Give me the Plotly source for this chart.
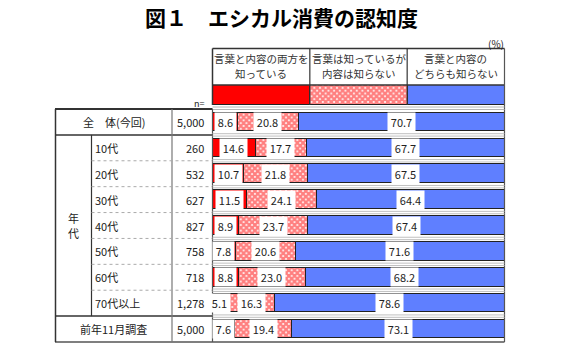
import plotly.graph_objects as go

# ---------------- data ----------------
categories = ["全　体(今回)", "10代", "20代", "30代", "40代", "50代", "60代", "70代以上", "前年11月調査"]
n_values = ["5,000", "260", "532", "627", "827", "758", "718", "1,278", "5,000"]
know_both = [8.6, 14.6, 10.7, 11.5, 8.9, 7.8, 8.8, 5.1, 7.6]
word_only = [20.8, 17.7, 21.8, 24.1, 23.7, 20.6, 23.0, 16.3, 19.4]
neither = [70.7, 67.7, 67.5, 64.4, 67.4, 71.6, 68.2, 78.6, 73.1]
series_names = ["言葉と内容の両方を<br>知っている", "言葉は知っているが<br>内容は知らない", "言葉と内容の<br>どちらも知らない"]
legend_units = [1, 1, 1]
title_text = "図１　エシカル消費の認知度"
group_label = ["年", "代"]

# ---------------- layout constants ----------------
W, H = 565, 360
JP = "Noto Sans CJK JP, Noto Sans, sans-serif"
RED = "#FF0000"
BLUE = "#5F7FFF"
DARK = "#222222"
X_L, X_R = 212.5, 504.5
Y_T, Y_B = 109.0, 342.0
ROW = (Y_B - Y_T) / len(categories)

def fx(x):
    return x / W

def fy(y):
    return 1 - y / H

pattern = dict(shape="x", fgcolor=RED, bgcolor="white", size=4, solidity=0.8)
styles = [
    dict(color=RED),
    dict(color="white", pattern=pattern),
    dict(color=BLUE),
]
series = [know_both, word_only, neither]

fig = go.Figure()
for vals, st, nm in zip(series, styles, series_names):
    fig.add_trace(go.Bar(
        x=vals, y=categories, orientation="h", width=0.72,
        marker=dict(line=dict(color=DARK, width=1), **st),
        name=nm.replace("<br>", ""), showlegend=False, hoverinfo="x+name",
    ))

# legend swatches as a stacked bar on a secondary axis
for u, st, nm in zip(legend_units, styles, series_names):
    fig.add_trace(go.Bar(
        x=[u], y=["legend"], orientation="h", width=1.0, xaxis="x2", yaxis="y2",
        marker=dict(line=dict(color=DARK, width=1), **st),
        showlegend=False, hoverinfo="skip",
    ))

annotations = []
# value labels in white boxes
for i, cat in enumerate(categories):
    start = 0.0
    for vals in series:
        v = vals[i]
        txt = f"{v:.1f}"
        annotations.append(dict(
            x=start + v / 2, y=cat, xref="x", yref="y", text=txt, showarrow=False,
            font=dict(family=JP, size=11, color=DARK), bgcolor="white",
            width=6 * len(txt) + 3, height=18, borderpad=0,
        ))
        start += v

# row labels and n
for i, cat in enumerate(categories):
    yc = Y_T + ROW * (i + 0.5)
    if i == 0 or i == len(categories) - 1:
        annotations.append(dict(x=fx(113.5), y=fy(yc), xref="paper", yref="paper", text=cat,
                                showarrow=False, xanchor="center", yanchor="middle",
                                font=dict(family=JP, size=11, color=DARK)))
    else:
        annotations.append(dict(x=fx(92.5), y=fy(yc), xref="paper", yref="paper", text=cat,
                                showarrow=False, xanchor="left", yanchor="middle",
                                font=dict(family=JP, size=11, color=DARK)))
    annotations.append(dict(x=fx(206), y=fy(yc), xref="paper", yref="paper", text=n_values[i],
                            showarrow=False, xanchor="right", yanchor="middle",
                            font=dict(family=JP, size=11, color=DARK)))

for j, ch in enumerate(group_label):
    annotations.append(dict(x=fx(73.5), y=fy(218 + 15 * j), xref="paper", yref="paper", text=ch,
                            showarrow=False, xanchor="center", yanchor="middle",
                            font=dict(family=JP, size=11, color=DARK)))
annotations.append(dict(x=fx(199), y=fy(103), xref="paper", yref="paper", text="n=",
                        showarrow=False, xanchor="center", yanchor="middle",
                        font=dict(family=JP, size=9, color=DARK)))
annotations.append(dict(x=fx(496), y=fy(43), xref="paper", yref="paper", text="(%)",
                        showarrow=False, xanchor="center", yanchor="middle",
                        font=dict(family=JP, size=10, color=DARK)))
annotations.append(dict(x=fx(281.5), y=fy(17), xref="paper", yref="paper", text="<b>" + title_text + "</b>",
                        showarrow=False, xanchor="center", yanchor="middle",
                        font=dict(family=JP, size=21, color="#000000")))

# header texts
col_w = (X_R - X_L) / 3
for k, nm in enumerate(series_names):
    xc = X_L + col_w * (k + 0.5)
    for j, line in enumerate(nm.split("<br>")):
        annotations.append(dict(x=fx(xc), y=fy(59 + 15 * j), xref="paper", yref="paper", text=line,
                                showarrow=False, xanchor="center", yanchor="middle",
                                font=dict(family=JP, size=10.5, color="#333333")))

shapes = []

def hline(y, x0, x1, color="#333333", width=1.5, dash="solid"):
    shapes.append(dict(type="line", xref="paper", yref="paper", x0=fx(x0), x1=fx(x1),
                       y0=fy(y), y1=fy(y), line=dict(color=color, width=width, dash=dash), layer="above"))

def vline(x, y0, y1, color="#333333", width=1.5, dash="solid"):
    shapes.append(dict(type="line", xref="paper", yref="paper", x0=fx(x), x1=fx(x),
                       y0=fy(y0), y1=fy(y1), line=dict(color=color, width=width, dash=dash), layer="above"))

# header box
hline(48.5, X_L, X_R, width=1.5)
hline(85, X_L, X_R, width=1.5)
vline(X_L, 48.5, 105)
vline(X_R, 48.5, Y_B, color="#555555", width=1.2)
for k in (1, 2):
    vline(X_L + col_w * k, 48.5, 105, width=1.2)
# double line under swatches
hline(107, X_L, X_R, color="#b5b5b5", width=1)
hline(109.5, X_L, X_R, color="#b5b5b5", width=1)

# table frame
hline(Y_T, 55, X_L, width=2)
hline(Y_T + ROW, 55, X_L, width=1.5)
hline(Y_B - ROW, 55, X_L, width=1.5)
hline(Y_B, 55, X_R, width=1.5, color="#555555")
vline(55.5, Y_T, Y_B)
vline(91.5, Y_T + ROW, Y_B - ROW, width=1.2)
vline(172, Y_T, Y_B, width=1.2, color="#777777")
vline(X_L, Y_T, Y_B, width=1.2, color="#555555")
# dotted separators between age rows
for i in range(2, len(categories) - 1):
    yb = Y_T + ROW * i
    hline(yb, 91.5, X_L, color="#aaaaaa", width=1, dash="dot")
# separators in bar area
for i in range(1, len(categories)):
    yb = Y_T + ROW * i
    hline(yb - 1.2, X_L, X_R, color="#c0c0c0", width=1)
    hline(yb + 1.2, X_L, X_R, color="#c0c0c0", width=1)

fig.update_layout(
    width=W, height=H, margin=dict(l=0, r=0, t=0, b=0),
    paper_bgcolor="white", plot_bgcolor="white",
    barmode="stack", bargap=0,
    xaxis=dict(domain=[fx(X_L), fx(X_R)], range=[0, 100], visible=False, fixedrange=True),
    yaxis=dict(domain=[fy(Y_B), fy(Y_T)], categoryorder="array", categoryarray=categories,
               range=[len(categories) - 0.5, -0.5], visible=False, fixedrange=True),
    xaxis2=dict(domain=[fx(X_L), fx(X_R)], range=[0, 3], visible=False, anchor="y2", fixedrange=True),
    yaxis2=dict(domain=[fy(105), fy(85)], range=[-0.5, 0.5], visible=False, anchor="x2", fixedrange=True),
    annotations=annotations, shapes=shapes, showlegend=False,
    font=dict(family=JP),
)

fig.write_html("out.html", config={"displayModeBar": False},
               post_script="document.body.style.margin='0px';document.body.style.overflow='hidden';")
